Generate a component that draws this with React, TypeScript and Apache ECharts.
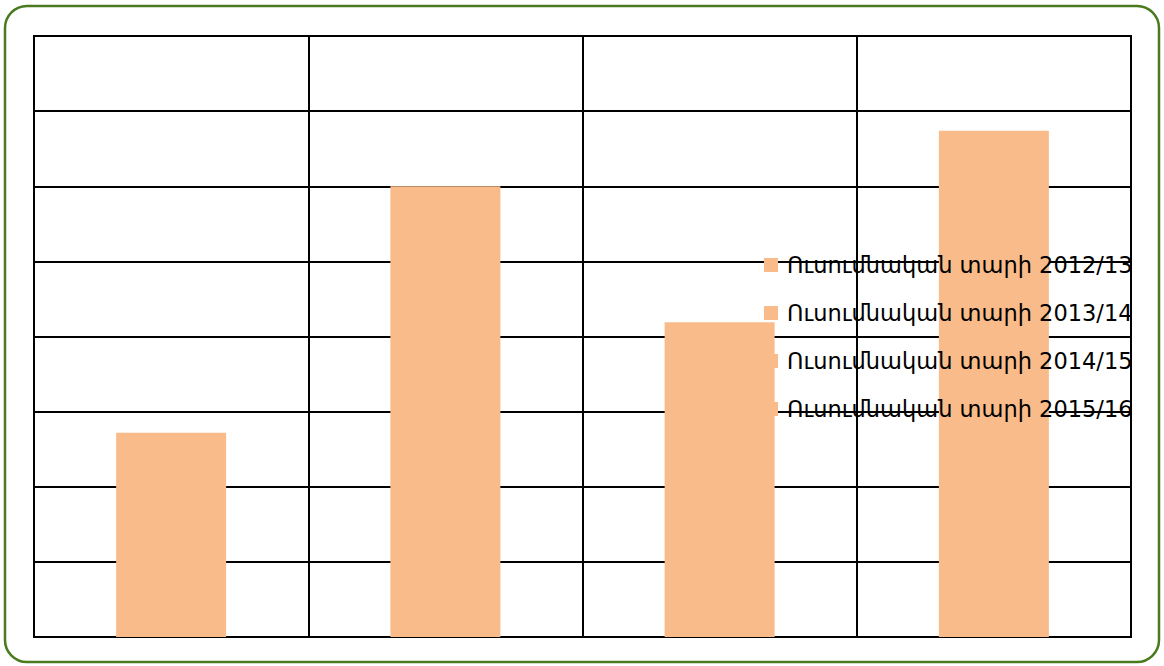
import React, { useEffect, useRef } from "react";
import * as echarts from "echarts";

const categories = ["2012/13", "2013/14", "2014/15", "2015/16"];
const seriesNames = [
  "Ուսումնական տարի 2012/13",
  "Ուսումնական տարի 2013/14",
  "Ուսումնական տարի 2014/15",
  "Ուսումնական տարի 2015/16",
];
const values = [2.72, 6.0, 4.19, 6.74];
const yMax = 8;
const yInterval = 1;

export default function App() {
  const ref = useRef<HTMLDivElement>(null);
  useEffect(() => {
    if (!ref.current) return;
    const chart = echarts.init(ref.current, undefined, { renderer: "svg" });
    const series = seriesNames.map((name, i) => ({
      name,
      type: "bar",
      stack: "all",
      barWidth: 110,
      itemStyle: { color: "#FABB8A" },
      data: categories.map((_, j) => (j === i ? values[i] : null)),
      z: 2,
    }));
    chart.setOption({
      animation: false,
      backgroundColor: "#ffffff",
      graphic: [
        {
          type: "rect",
          shape: { x: 5, y: 6, width: 1154, height: 656, r: 22 },
          style: { fill: "none", stroke: "#4A7A1E", lineWidth: 2.5 },
          z: 0,
        },
      ],
      grid: {
        left: 34,
        top: 36,
        width: 1097,
        height: 601,
        show: true,
        borderColor: "#000",
        borderWidth: 2,
        backgroundColor: "transparent",
      },
      legend: {
        orient: "vertical",
        left: 764,
        top: 252,
        padding: 0,
        itemWidth: 14,
        itemHeight: 14,
        itemGap: 22,
        icon: "rect",
        data: seriesNames,
        textStyle: {
          fontSize: 22.5,
          lineHeight: 26,
          color: "#000",
          fontFamily: "DejaVu Sans",
          padding: [0, 0, 0, 4],
        },
        z: 10,
      },
      xAxis: {
        type: "category",
        data: categories,
        boundaryGap: true,
        axisLine: { show: true, lineStyle: { color: "#000", width: 2 } },
        axisTick: { show: false },
        axisLabel: { show: false },
        splitLine: { show: true, lineStyle: { color: "#000", width: 2 } },
      },
      yAxis: {
        type: "value",
        min: 0,
        max: yMax,
        interval: yInterval,
        axisLine: { show: true, lineStyle: { color: "#000", width: 2 } },
        axisTick: { show: false },
        axisLabel: { show: false },
        splitLine: { show: true, lineStyle: { color: "#000", width: 2 } },
      },
      series,
    });
    return () => chart.dispose();
  }, []);
  return (
    <div
      ref={ref}
      style={{ position: "fixed", left: 0, top: 0, width: 1164, height: 666 }}
    />
  );
}
